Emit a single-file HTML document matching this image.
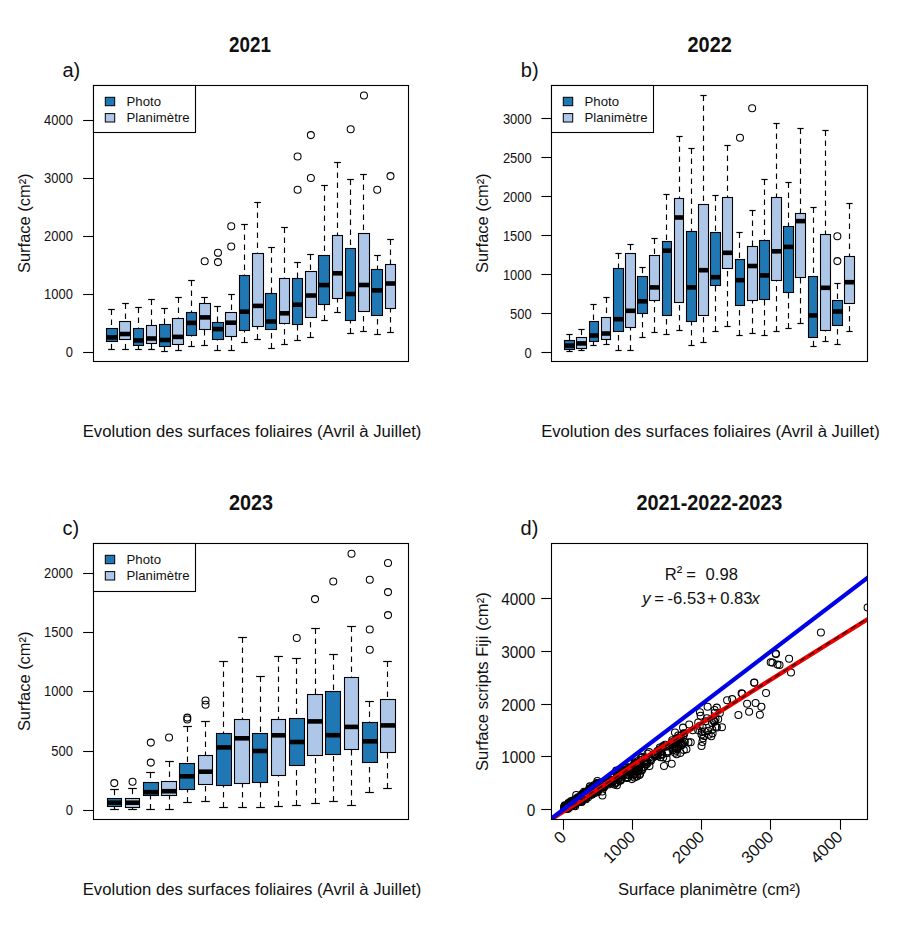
<!DOCTYPE html>
<html><head><meta charset="utf-8"><title>Surfaces foliaires</title>
<style>html,body{margin:0;padding:0;background:#fff;}body{width:911px;height:931px;overflow:hidden;}svg{display:block;}</style>
</head><body>
<svg width="911" height="931" viewBox="0 0 911 931">
<style>text{font-family:'Liberation Sans', Arial, sans-serif;fill:#111}.w{stroke:#000;stroke-width:1.15;stroke-dasharray:5.6 4.4}.s{stroke:#000;stroke-width:1.2;stroke-linecap:butt}.b{stroke:#000;stroke-width:1.1}.m{stroke:#000;stroke-width:4.6}.o{fill:none;stroke:#000;stroke-width:1.05}</style>
<rect width="911" height="931" fill="#fff"/>
<text x="249.95" y="51.9" font-size="21.8" text-anchor="middle" font-weight="bold" textLength="41.8" lengthAdjust="spacingAndGlyphs">2021</text>
<text x="62.5" y="77" font-size="20" text-anchor="start">a)</text>
<rect x="93.5" y="85.5" width="315" height="276" fill="none" stroke="#000" stroke-width="1.1"/>
<line x1="111.5" y1="309.5" x2="111.5" y2="328.5" class="w"/>
<line x1="111.5" y1="349.5" x2="111.5" y2="341.5" class="w"/>
<line x1="108.15" y1="309.5" x2="114.85" y2="309.5" class="s"/>
<line x1="108.15" y1="349.5" x2="114.85" y2="349.5" class="s"/>
<rect x="106.5" y="328.5" width="11" height="13" fill="#1F77B4" class="b"/>
<line x1="106.5" y1="337.4" x2="117.5" y2="337.4" class="m"/>
<line x1="125.5" y1="303.5" x2="125.5" y2="321.5" class="w"/>
<line x1="125.5" y1="349.5" x2="125.5" y2="339.5" class="w"/>
<line x1="122.15" y1="303.5" x2="128.85" y2="303.5" class="s"/>
<line x1="122.15" y1="349.5" x2="128.85" y2="349.5" class="s"/>
<rect x="119.5" y="321.5" width="11" height="18" fill="#AEC7E8" class="b"/>
<line x1="119.5" y1="334" x2="130.5" y2="334" class="m"/>
<line x1="138.5" y1="307.5" x2="138.5" y2="328.5" class="w"/>
<line x1="138.5" y1="349.5" x2="138.5" y2="345.5" class="w"/>
<line x1="135.15" y1="307.5" x2="141.85" y2="307.5" class="s"/>
<line x1="135.15" y1="349.5" x2="141.85" y2="349.5" class="s"/>
<rect x="133.5" y="328.5" width="10" height="17" fill="#1F77B4" class="b"/>
<line x1="133.5" y1="340.4" x2="143.5" y2="340.4" class="m"/>
<line x1="151.5" y1="299.5" x2="151.5" y2="325.5" class="w"/>
<line x1="151.5" y1="349.5" x2="151.5" y2="343.5" class="w"/>
<line x1="148.15" y1="299.5" x2="154.85" y2="299.5" class="s"/>
<line x1="148.15" y1="349.5" x2="154.85" y2="349.5" class="s"/>
<rect x="146.5" y="325.5" width="10" height="18" fill="#AEC7E8" class="b"/>
<line x1="146.5" y1="338.5" x2="156.5" y2="338.5" class="m"/>
<line x1="164.5" y1="308.5" x2="164.5" y2="324.5" class="w"/>
<line x1="164.5" y1="351.5" x2="164.5" y2="346.5" class="w"/>
<line x1="161.15" y1="308.5" x2="167.85" y2="308.5" class="s"/>
<line x1="161.15" y1="351.5" x2="167.85" y2="351.5" class="s"/>
<rect x="159.5" y="324.5" width="11" height="22" fill="#1F77B4" class="b"/>
<line x1="159.5" y1="340" x2="170.5" y2="340" class="m"/>
<line x1="178.5" y1="297.5" x2="178.5" y2="318.5" class="w"/>
<line x1="178.5" y1="350.5" x2="178.5" y2="344.5" class="w"/>
<line x1="175.15" y1="297.5" x2="181.85" y2="297.5" class="s"/>
<line x1="175.15" y1="350.5" x2="181.85" y2="350.5" class="s"/>
<rect x="172.5" y="318.5" width="11" height="26" fill="#AEC7E8" class="b"/>
<line x1="172.5" y1="336.9" x2="183.5" y2="336.9" class="m"/>
<line x1="191.5" y1="280.5" x2="191.5" y2="312.5" class="w"/>
<line x1="191.5" y1="346.5" x2="191.5" y2="335.5" class="w"/>
<line x1="188.15" y1="280.5" x2="194.85" y2="280.5" class="s"/>
<line x1="188.15" y1="346.5" x2="194.85" y2="346.5" class="s"/>
<rect x="186.5" y="312.5" width="10" height="23" fill="#1F77B4" class="b"/>
<line x1="186.5" y1="322.9" x2="196.5" y2="322.9" class="m"/>
<line x1="204.5" y1="297.5" x2="204.5" y2="303.5" class="w"/>
<line x1="204.5" y1="345.5" x2="204.5" y2="329.5" class="w"/>
<line x1="201.15" y1="297.5" x2="207.85" y2="297.5" class="s"/>
<line x1="201.15" y1="345.5" x2="207.85" y2="345.5" class="s"/>
<rect x="199.5" y="303.5" width="11" height="26" fill="#AEC7E8" class="b"/>
<line x1="199.5" y1="317.4" x2="210.5" y2="317.4" class="m"/>
<circle cx="204.7" cy="261.2" r="3.5" class="o"/>
<line x1="217.5" y1="306.5" x2="217.5" y2="322.5" class="w"/>
<line x1="217.5" y1="350.5" x2="217.5" y2="339.5" class="w"/>
<line x1="214.15" y1="306.5" x2="220.85" y2="306.5" class="s"/>
<line x1="214.15" y1="350.5" x2="220.85" y2="350.5" class="s"/>
<rect x="212.5" y="322.5" width="11" height="17" fill="#1F77B4" class="b"/>
<line x1="212.5" y1="329.1" x2="223.5" y2="329.1" class="m"/>
<circle cx="217.97" cy="252.8" r="3.5" class="o"/>
<circle cx="217.97" cy="262.1" r="3.5" class="o"/>
<line x1="231.5" y1="294.5" x2="231.5" y2="312.5" class="w"/>
<line x1="231.5" y1="350.5" x2="231.5" y2="336.5" class="w"/>
<line x1="228.15" y1="294.5" x2="234.85" y2="294.5" class="s"/>
<line x1="228.15" y1="350.5" x2="234.85" y2="350.5" class="s"/>
<rect x="225.5" y="312.5" width="11" height="24" fill="#AEC7E8" class="b"/>
<line x1="225.5" y1="322.7" x2="236.5" y2="322.7" class="m"/>
<circle cx="231.24" cy="226.2" r="3.5" class="o"/>
<circle cx="231.24" cy="246.5" r="3.5" class="o"/>
<line x1="244.5" y1="224.5" x2="244.5" y2="275.5" class="w"/>
<line x1="244.5" y1="342.5" x2="244.5" y2="330.5" class="w"/>
<line x1="241.15" y1="224.5" x2="247.85" y2="224.5" class="s"/>
<line x1="241.15" y1="342.5" x2="247.85" y2="342.5" class="s"/>
<rect x="239.5" y="275.5" width="10" height="55" fill="#1F77B4" class="b"/>
<line x1="239.5" y1="311.7" x2="249.5" y2="311.7" class="m"/>
<line x1="257.5" y1="202.5" x2="257.5" y2="253.5" class="w"/>
<line x1="257.5" y1="339.5" x2="257.5" y2="326.5" class="w"/>
<line x1="254.15" y1="202.5" x2="260.85" y2="202.5" class="s"/>
<line x1="254.15" y1="339.5" x2="260.85" y2="339.5" class="s"/>
<rect x="252.5" y="253.5" width="11" height="73" fill="#AEC7E8" class="b"/>
<line x1="252.5" y1="305.9" x2="263.5" y2="305.9" class="m"/>
<line x1="271.5" y1="247.5" x2="271.5" y2="293.5" class="w"/>
<line x1="271.5" y1="348.5" x2="271.5" y2="329.5" class="w"/>
<line x1="268.15" y1="247.5" x2="274.85" y2="247.5" class="s"/>
<line x1="268.15" y1="348.5" x2="274.85" y2="348.5" class="s"/>
<rect x="265.5" y="293.5" width="11" height="36" fill="#1F77B4" class="b"/>
<line x1="265.5" y1="321.5" x2="276.5" y2="321.5" class="m"/>
<line x1="284.5" y1="227.5" x2="284.5" y2="278.5" class="w"/>
<line x1="284.5" y1="344.5" x2="284.5" y2="323.5" class="w"/>
<line x1="281.15" y1="227.5" x2="287.85" y2="227.5" class="s"/>
<line x1="281.15" y1="344.5" x2="287.85" y2="344.5" class="s"/>
<rect x="279.5" y="278.5" width="10" height="45" fill="#AEC7E8" class="b"/>
<line x1="279.5" y1="313.3" x2="289.5" y2="313.3" class="m"/>
<line x1="297.5" y1="262.5" x2="297.5" y2="278.5" class="w"/>
<line x1="297.5" y1="340.5" x2="297.5" y2="324.5" class="w"/>
<line x1="294.15" y1="262.5" x2="300.85" y2="262.5" class="s"/>
<line x1="294.15" y1="340.5" x2="300.85" y2="340.5" class="s"/>
<rect x="292.5" y="278.5" width="10" height="46" fill="#1F77B4" class="b"/>
<line x1="292.5" y1="304.7" x2="302.5" y2="304.7" class="m"/>
<circle cx="297.6" cy="156.5" r="3.5" class="o"/>
<circle cx="297.6" cy="189.7" r="3.5" class="o"/>
<line x1="310.5" y1="254.5" x2="310.5" y2="271.5" class="w"/>
<line x1="310.5" y1="337.5" x2="310.5" y2="317.5" class="w"/>
<line x1="307.15" y1="254.5" x2="313.85" y2="254.5" class="s"/>
<line x1="307.15" y1="337.5" x2="313.85" y2="337.5" class="s"/>
<rect x="305.5" y="271.5" width="11" height="46" fill="#AEC7E8" class="b"/>
<line x1="305.5" y1="295.5" x2="316.5" y2="295.5" class="m"/>
<circle cx="310.87" cy="135.1" r="3.5" class="o"/>
<circle cx="310.87" cy="177.9" r="3.5" class="o"/>
<line x1="324.5" y1="185.5" x2="324.5" y2="255.5" class="w"/>
<line x1="324.5" y1="320.5" x2="324.5" y2="304.5" class="w"/>
<line x1="321.15" y1="185.5" x2="327.85" y2="185.5" class="s"/>
<line x1="321.15" y1="320.5" x2="327.85" y2="320.5" class="s"/>
<rect x="318.5" y="255.5" width="11" height="49" fill="#1F77B4" class="b"/>
<line x1="318.5" y1="285.1" x2="329.5" y2="285.1" class="m"/>
<line x1="337.5" y1="162.5" x2="337.5" y2="235.5" class="w"/>
<line x1="337.5" y1="312.5" x2="337.5" y2="298.5" class="w"/>
<line x1="334.15" y1="162.5" x2="340.85" y2="162.5" class="s"/>
<line x1="334.15" y1="312.5" x2="340.85" y2="312.5" class="s"/>
<rect x="332.5" y="235.5" width="10" height="63" fill="#AEC7E8" class="b"/>
<line x1="332.5" y1="273.3" x2="342.5" y2="273.3" class="m"/>
<line x1="350.5" y1="179.5" x2="350.5" y2="248.5" class="w"/>
<line x1="350.5" y1="333.5" x2="350.5" y2="320.5" class="w"/>
<line x1="347.15" y1="179.5" x2="353.85" y2="179.5" class="s"/>
<line x1="347.15" y1="333.5" x2="353.85" y2="333.5" class="s"/>
<rect x="345.5" y="248.5" width="10" height="72" fill="#1F77B4" class="b"/>
<line x1="345.5" y1="294" x2="355.5" y2="294" class="m"/>
<circle cx="350.68" cy="129.2" r="3.5" class="o"/>
<line x1="363.5" y1="174.5" x2="363.5" y2="233.5" class="w"/>
<line x1="363.5" y1="331.5" x2="363.5" y2="311.5" class="w"/>
<line x1="360.15" y1="174.5" x2="366.85" y2="174.5" class="s"/>
<line x1="360.15" y1="331.5" x2="366.85" y2="331.5" class="s"/>
<rect x="358.5" y="233.5" width="11" height="78" fill="#AEC7E8" class="b"/>
<line x1="358.5" y1="285" x2="369.5" y2="285" class="m"/>
<circle cx="363.95" cy="95.5" r="3.5" class="o"/>
<line x1="377.5" y1="255.5" x2="377.5" y2="269.5" class="w"/>
<line x1="377.5" y1="334.5" x2="377.5" y2="315.5" class="w"/>
<line x1="374.15" y1="255.5" x2="380.85" y2="255.5" class="s"/>
<line x1="374.15" y1="334.5" x2="380.85" y2="334.5" class="s"/>
<rect x="371.5" y="269.5" width="11" height="46" fill="#1F77B4" class="b"/>
<line x1="371.5" y1="290.4" x2="382.5" y2="290.4" class="m"/>
<circle cx="377.22" cy="189.7" r="3.5" class="o"/>
<line x1="390.5" y1="239.5" x2="390.5" y2="264.5" class="w"/>
<line x1="390.5" y1="332.5" x2="390.5" y2="308.5" class="w"/>
<line x1="387.15" y1="239.5" x2="393.85" y2="239.5" class="s"/>
<line x1="387.15" y1="332.5" x2="393.85" y2="332.5" class="s"/>
<rect x="385.5" y="264.5" width="10" height="44" fill="#AEC7E8" class="b"/>
<line x1="385.5" y1="283.5" x2="395.5" y2="283.5" class="m"/>
<circle cx="390.49" cy="176.1" r="3.5" class="o"/>
<rect x="93.5" y="85.5" width="102" height="47" fill="#fff" stroke="#000" stroke-width="1.1"/>
<rect x="105.3" y="97.3" width="9.4" height="8.4" fill="#1F77B4" stroke="#000" stroke-width="1"/>
<rect x="105.3" y="113.6" width="9.4" height="8.4" fill="#AEC7E8" stroke="#000" stroke-width="1"/>
<text x="126.5" y="105.8" font-size="13.2" text-anchor="start">Photo</text>
<text x="126.5" y="121.8" font-size="13.2" text-anchor="start">Planimètre</text>
<line x1="83.1" y1="352.5" x2="93.5" y2="352.5" stroke="#000" stroke-width="1.1"/>
<text x="72.9" y="356.8" font-size="14.1" text-anchor="end" textLength="7.2" lengthAdjust="spacingAndGlyphs">0</text>
<line x1="83.1" y1="294.5" x2="93.5" y2="294.5" stroke="#000" stroke-width="1.1"/>
<text x="72.9" y="298.8" font-size="14.1" text-anchor="end" textLength="28.8" lengthAdjust="spacingAndGlyphs">1000</text>
<line x1="83.1" y1="236.5" x2="93.5" y2="236.5" stroke="#000" stroke-width="1.1"/>
<text x="72.9" y="240.8" font-size="14.1" text-anchor="end" textLength="28.8" lengthAdjust="spacingAndGlyphs">2000</text>
<line x1="83.1" y1="178.5" x2="93.5" y2="178.5" stroke="#000" stroke-width="1.1"/>
<text x="72.9" y="182.8" font-size="14.1" text-anchor="end" textLength="28.8" lengthAdjust="spacingAndGlyphs">3000</text>
<line x1="83.1" y1="120.5" x2="93.5" y2="120.5" stroke="#000" stroke-width="1.1"/>
<text x="72.9" y="124.8" font-size="14.1" text-anchor="end" textLength="28.8" lengthAdjust="spacingAndGlyphs">4000</text>
<text x="0" y="0" font-size="16" text-anchor="middle" textLength="99.6" lengthAdjust="spacingAndGlyphs" transform="translate(29.8 223.2) rotate(-90)">Surface (cm²)</text>
<text x="252.05" y="436.7" font-size="16" text-anchor="middle" textLength="338.6" lengthAdjust="spacingAndGlyphs">Evolution des surfaces foliaires (Avril à Juillet)</text>
<text x="709.65" y="51.9" font-size="21.8" text-anchor="middle" font-weight="bold" textLength="44.3" lengthAdjust="spacingAndGlyphs">2022</text>
<text x="520.8" y="77" font-size="20" text-anchor="start">b)</text>
<rect x="551.5" y="85.5" width="316" height="276" fill="none" stroke="#000" stroke-width="1.1"/>
<line x1="569.5" y1="334.5" x2="569.5" y2="340.5" class="w"/>
<line x1="569.5" y1="351.5" x2="569.5" y2="349.5" class="w"/>
<line x1="566.37" y1="334.5" x2="572.63" y2="334.5" class="s"/>
<line x1="566.37" y1="351.5" x2="572.63" y2="351.5" class="s"/>
<rect x="564.5" y="340.5" width="10" height="9" fill="#1F77B4" class="b"/>
<line x1="564.5" y1="345.6" x2="574.5" y2="345.6" class="m"/>
<line x1="581.5" y1="329.5" x2="581.5" y2="337.5" class="w"/>
<line x1="581.5" y1="350.5" x2="581.5" y2="348.5" class="w"/>
<line x1="578.37" y1="329.5" x2="584.63" y2="329.5" class="s"/>
<line x1="578.37" y1="350.5" x2="584.63" y2="350.5" class="s"/>
<rect x="576.5" y="337.5" width="10" height="11" fill="#AEC7E8" class="b"/>
<line x1="576.5" y1="343.4" x2="586.5" y2="343.4" class="m"/>
<line x1="593.5" y1="304.5" x2="593.5" y2="321.5" class="w"/>
<line x1="593.5" y1="345.5" x2="593.5" y2="341.5" class="w"/>
<line x1="590.37" y1="304.5" x2="596.63" y2="304.5" class="s"/>
<line x1="590.37" y1="345.5" x2="596.63" y2="345.5" class="s"/>
<rect x="589.5" y="321.5" width="9" height="20" fill="#1F77B4" class="b"/>
<line x1="589.5" y1="335.5" x2="598.5" y2="335.5" class="m"/>
<line x1="606.5" y1="297.5" x2="606.5" y2="317.5" class="w"/>
<line x1="606.5" y1="344.5" x2="606.5" y2="339.5" class="w"/>
<line x1="603.37" y1="297.5" x2="609.63" y2="297.5" class="s"/>
<line x1="603.37" y1="344.5" x2="609.63" y2="344.5" class="s"/>
<rect x="601.5" y="317.5" width="9" height="22" fill="#AEC7E8" class="b"/>
<line x1="601.5" y1="333.5" x2="610.5" y2="333.5" class="m"/>
<line x1="618.5" y1="253.5" x2="618.5" y2="268.5" class="w"/>
<line x1="618.5" y1="350.5" x2="618.5" y2="331.5" class="w"/>
<line x1="615.37" y1="253.5" x2="621.63" y2="253.5" class="s"/>
<line x1="615.37" y1="350.5" x2="621.63" y2="350.5" class="s"/>
<rect x="613.5" y="268.5" width="10" height="63" fill="#1F77B4" class="b"/>
<line x1="613.5" y1="319.2" x2="623.5" y2="319.2" class="m"/>
<line x1="630.5" y1="244.5" x2="630.5" y2="253.5" class="w"/>
<line x1="630.5" y1="350.5" x2="630.5" y2="327.5" class="w"/>
<line x1="627.37" y1="244.5" x2="633.63" y2="244.5" class="s"/>
<line x1="627.37" y1="350.5" x2="633.63" y2="350.5" class="s"/>
<rect x="625.5" y="253.5" width="10" height="74" fill="#AEC7E8" class="b"/>
<line x1="625.5" y1="310.8" x2="635.5" y2="310.8" class="m"/>
<line x1="642.5" y1="267.5" x2="642.5" y2="276.5" class="w"/>
<line x1="642.5" y1="337.5" x2="642.5" y2="313.5" class="w"/>
<line x1="639.37" y1="267.5" x2="645.63" y2="267.5" class="s"/>
<line x1="639.37" y1="337.5" x2="645.63" y2="337.5" class="s"/>
<rect x="637.5" y="276.5" width="10" height="37" fill="#1F77B4" class="b"/>
<line x1="637.5" y1="301.3" x2="647.5" y2="301.3" class="m"/>
<line x1="654.5" y1="238.5" x2="654.5" y2="255.5" class="w"/>
<line x1="654.5" y1="332.5" x2="654.5" y2="300.5" class="w"/>
<line x1="651.37" y1="238.5" x2="657.63" y2="238.5" class="s"/>
<line x1="651.37" y1="332.5" x2="657.63" y2="332.5" class="s"/>
<rect x="649.5" y="255.5" width="10" height="45" fill="#AEC7E8" class="b"/>
<line x1="649.5" y1="287.4" x2="659.5" y2="287.4" class="m"/>
<line x1="666.5" y1="194.5" x2="666.5" y2="241.5" class="w"/>
<line x1="666.5" y1="334.5" x2="666.5" y2="315.5" class="w"/>
<line x1="663.37" y1="194.5" x2="669.63" y2="194.5" class="s"/>
<line x1="663.37" y1="334.5" x2="669.63" y2="334.5" class="s"/>
<rect x="662.5" y="241.5" width="9" height="74" fill="#1F77B4" class="b"/>
<line x1="662.5" y1="250.7" x2="671.5" y2="250.7" class="m"/>
<line x1="679.5" y1="136.5" x2="679.5" y2="198.5" class="w"/>
<line x1="679.5" y1="330.5" x2="679.5" y2="302.5" class="w"/>
<line x1="676.37" y1="136.5" x2="682.63" y2="136.5" class="s"/>
<line x1="676.37" y1="330.5" x2="682.63" y2="330.5" class="s"/>
<rect x="674.5" y="198.5" width="9" height="104" fill="#AEC7E8" class="b"/>
<line x1="674.5" y1="217.5" x2="683.5" y2="217.5" class="m"/>
<line x1="691.5" y1="148.5" x2="691.5" y2="231.5" class="w"/>
<line x1="691.5" y1="345.5" x2="691.5" y2="321.5" class="w"/>
<line x1="688.37" y1="148.5" x2="694.63" y2="148.5" class="s"/>
<line x1="688.37" y1="345.5" x2="694.63" y2="345.5" class="s"/>
<rect x="686.5" y="231.5" width="10" height="90" fill="#1F77B4" class="b"/>
<line x1="686.5" y1="287.4" x2="696.5" y2="287.4" class="m"/>
<line x1="703.5" y1="95.5" x2="703.5" y2="204.5" class="w"/>
<line x1="703.5" y1="342.5" x2="703.5" y2="315.5" class="w"/>
<line x1="700.37" y1="95.5" x2="706.63" y2="95.5" class="s"/>
<line x1="700.37" y1="342.5" x2="706.63" y2="342.5" class="s"/>
<rect x="698.5" y="204.5" width="10" height="111" fill="#AEC7E8" class="b"/>
<line x1="698.5" y1="270.2" x2="708.5" y2="270.2" class="m"/>
<line x1="715.5" y1="195.5" x2="715.5" y2="232.5" class="w"/>
<line x1="715.5" y1="331.5" x2="715.5" y2="285.5" class="w"/>
<line x1="712.37" y1="195.5" x2="718.63" y2="195.5" class="s"/>
<line x1="712.37" y1="331.5" x2="718.63" y2="331.5" class="s"/>
<rect x="710.5" y="232.5" width="10" height="53" fill="#1F77B4" class="b"/>
<line x1="710.5" y1="277.2" x2="720.5" y2="277.2" class="m"/>
<line x1="727.5" y1="145.5" x2="727.5" y2="197.5" class="w"/>
<line x1="727.5" y1="326.5" x2="727.5" y2="268.5" class="w"/>
<line x1="724.37" y1="145.5" x2="730.63" y2="145.5" class="s"/>
<line x1="724.37" y1="326.5" x2="730.63" y2="326.5" class="s"/>
<rect x="722.5" y="197.5" width="10" height="71" fill="#AEC7E8" class="b"/>
<line x1="722.5" y1="252.8" x2="732.5" y2="252.8" class="m"/>
<line x1="739.5" y1="232.5" x2="739.5" y2="259.5" class="w"/>
<line x1="739.5" y1="335.5" x2="739.5" y2="305.5" class="w"/>
<line x1="736.37" y1="232.5" x2="742.63" y2="232.5" class="s"/>
<line x1="736.37" y1="335.5" x2="742.63" y2="335.5" class="s"/>
<rect x="735.5" y="259.5" width="9" height="46" fill="#1F77B4" class="b"/>
<line x1="735.5" y1="280.2" x2="744.5" y2="280.2" class="m"/>
<circle cx="739.98" cy="137.7" r="3.5" class="o"/>
<line x1="752.5" y1="210.5" x2="752.5" y2="246.5" class="w"/>
<line x1="752.5" y1="333.5" x2="752.5" y2="300.5" class="w"/>
<line x1="749.37" y1="210.5" x2="755.63" y2="210.5" class="s"/>
<line x1="749.37" y1="333.5" x2="755.63" y2="333.5" class="s"/>
<rect x="747.5" y="246.5" width="10" height="54" fill="#AEC7E8" class="b"/>
<line x1="747.5" y1="266" x2="757.5" y2="266" class="m"/>
<circle cx="752.15" cy="108.2" r="3.5" class="o"/>
<line x1="764.5" y1="179.5" x2="764.5" y2="240.5" class="w"/>
<line x1="764.5" y1="335.5" x2="764.5" y2="299.5" class="w"/>
<line x1="761.37" y1="179.5" x2="767.63" y2="179.5" class="s"/>
<line x1="761.37" y1="335.5" x2="767.63" y2="335.5" class="s"/>
<rect x="759.5" y="240.5" width="10" height="59" fill="#1F77B4" class="b"/>
<line x1="759.5" y1="275.4" x2="769.5" y2="275.4" class="m"/>
<line x1="776.5" y1="123.5" x2="776.5" y2="197.5" class="w"/>
<line x1="776.5" y1="331.5" x2="776.5" y2="280.5" class="w"/>
<line x1="773.37" y1="123.5" x2="779.63" y2="123.5" class="s"/>
<line x1="773.37" y1="331.5" x2="779.63" y2="331.5" class="s"/>
<rect x="771.5" y="197.5" width="10" height="83" fill="#AEC7E8" class="b"/>
<line x1="771.5" y1="251.3" x2="781.5" y2="251.3" class="m"/>
<line x1="788.5" y1="182.5" x2="788.5" y2="226.5" class="w"/>
<line x1="788.5" y1="328.5" x2="788.5" y2="292.5" class="w"/>
<line x1="785.37" y1="182.5" x2="791.63" y2="182.5" class="s"/>
<line x1="785.37" y1="328.5" x2="791.63" y2="328.5" class="s"/>
<rect x="783.5" y="226.5" width="10" height="66" fill="#1F77B4" class="b"/>
<line x1="783.5" y1="246.9" x2="793.5" y2="246.9" class="m"/>
<line x1="800.5" y1="128.5" x2="800.5" y2="213.5" class="w"/>
<line x1="800.5" y1="323.5" x2="800.5" y2="277.5" class="w"/>
<line x1="797.37" y1="128.5" x2="803.63" y2="128.5" class="s"/>
<line x1="797.37" y1="323.5" x2="803.63" y2="323.5" class="s"/>
<rect x="795.5" y="213.5" width="10" height="64" fill="#AEC7E8" class="b"/>
<line x1="795.5" y1="221.1" x2="805.5" y2="221.1" class="m"/>
<line x1="813.5" y1="207.5" x2="813.5" y2="276.5" class="w"/>
<line x1="813.5" y1="346.5" x2="813.5" y2="337.5" class="w"/>
<line x1="810.37" y1="207.5" x2="816.63" y2="207.5" class="s"/>
<line x1="810.37" y1="346.5" x2="816.63" y2="346.5" class="s"/>
<rect x="808.5" y="276.5" width="9" height="61" fill="#1F77B4" class="b"/>
<line x1="808.5" y1="315.4" x2="817.5" y2="315.4" class="m"/>
<line x1="825.5" y1="130.5" x2="825.5" y2="234.5" class="w"/>
<line x1="825.5" y1="341.5" x2="825.5" y2="330.5" class="w"/>
<line x1="822.37" y1="130.5" x2="828.63" y2="130.5" class="s"/>
<line x1="822.37" y1="341.5" x2="828.63" y2="341.5" class="s"/>
<rect x="820.5" y="234.5" width="10" height="96" fill="#AEC7E8" class="b"/>
<line x1="820.5" y1="287.8" x2="830.5" y2="287.8" class="m"/>
<line x1="837.5" y1="283.5" x2="837.5" y2="300.5" class="w"/>
<line x1="837.5" y1="344.5" x2="837.5" y2="325.5" class="w"/>
<line x1="834.37" y1="283.5" x2="840.63" y2="283.5" class="s"/>
<line x1="834.37" y1="344.5" x2="840.63" y2="344.5" class="s"/>
<rect x="832.5" y="300.5" width="10" height="25" fill="#1F77B4" class="b"/>
<line x1="832.5" y1="311.5" x2="842.5" y2="311.5" class="m"/>
<circle cx="837.36" cy="236.3" r="3.5" class="o"/>
<circle cx="837.36" cy="261.1" r="3.5" class="o"/>
<line x1="849.5" y1="203.5" x2="849.5" y2="256.5" class="w"/>
<line x1="849.5" y1="331.5" x2="849.5" y2="303.5" class="w"/>
<line x1="846.37" y1="203.5" x2="852.63" y2="203.5" class="s"/>
<line x1="846.37" y1="331.5" x2="852.63" y2="331.5" class="s"/>
<rect x="844.5" y="256.5" width="10" height="47" fill="#AEC7E8" class="b"/>
<line x1="844.5" y1="282.2" x2="854.5" y2="282.2" class="m"/>
<rect x="551.5" y="85.5" width="102" height="47" fill="#fff" stroke="#000" stroke-width="1.1"/>
<rect x="563.3" y="97.3" width="9.4" height="8.4" fill="#1F77B4" stroke="#000" stroke-width="1"/>
<rect x="563.3" y="113.6" width="9.4" height="8.4" fill="#AEC7E8" stroke="#000" stroke-width="1"/>
<text x="584.5" y="105.8" font-size="13.2" text-anchor="start">Photo</text>
<text x="584.5" y="121.8" font-size="13.2" text-anchor="start">Planimètre</text>
<line x1="541.4" y1="352.5" x2="551.5" y2="352.5" stroke="#000" stroke-width="1.1"/>
<text x="531.7" y="357.6" font-size="14.1" text-anchor="end" textLength="7.2" lengthAdjust="spacingAndGlyphs">0</text>
<line x1="541.4" y1="313.5" x2="551.5" y2="313.5" stroke="#000" stroke-width="1.1"/>
<text x="531.7" y="318.6" font-size="14.1" text-anchor="end" textLength="21.6" lengthAdjust="spacingAndGlyphs">500</text>
<line x1="541.4" y1="274.5" x2="551.5" y2="274.5" stroke="#000" stroke-width="1.1"/>
<text x="531.7" y="279.6" font-size="14.1" text-anchor="end" textLength="28.8" lengthAdjust="spacingAndGlyphs">1000</text>
<line x1="541.4" y1="235.5" x2="551.5" y2="235.5" stroke="#000" stroke-width="1.1"/>
<text x="531.7" y="240.6" font-size="14.1" text-anchor="end" textLength="28.8" lengthAdjust="spacingAndGlyphs">1500</text>
<line x1="541.4" y1="196.5" x2="551.5" y2="196.5" stroke="#000" stroke-width="1.1"/>
<text x="531.7" y="201.6" font-size="14.1" text-anchor="end" textLength="28.8" lengthAdjust="spacingAndGlyphs">2000</text>
<line x1="541.4" y1="157.5" x2="551.5" y2="157.5" stroke="#000" stroke-width="1.1"/>
<text x="531.7" y="162.6" font-size="14.1" text-anchor="end" textLength="28.8" lengthAdjust="spacingAndGlyphs">2500</text>
<line x1="541.4" y1="118.5" x2="551.5" y2="118.5" stroke="#000" stroke-width="1.1"/>
<text x="531.7" y="123.6" font-size="14.1" text-anchor="end" textLength="28.8" lengthAdjust="spacingAndGlyphs">3000</text>
<text x="0" y="0" font-size="16" text-anchor="middle" textLength="99.6" lengthAdjust="spacingAndGlyphs" transform="translate(488.1 223.2) rotate(-90)">Surface (cm²)</text>
<text x="710.45" y="436.7" font-size="16" text-anchor="middle" textLength="338.6" lengthAdjust="spacingAndGlyphs">Evolution des surfaces foliaires (Avril à Juillet)</text>
<text x="251" y="510" font-size="21.8" text-anchor="middle" font-weight="bold" textLength="44.1" lengthAdjust="spacingAndGlyphs">2023</text>
<text x="62.5" y="535.1" font-size="20" text-anchor="start">c)</text>
<rect x="93.5" y="543.5" width="315" height="276" fill="none" stroke="#000" stroke-width="1.1"/>
<line x1="114.5" y1="789.5" x2="114.5" y2="798.5" class="w"/>
<line x1="114.5" y1="809.5" x2="114.5" y2="806.5" class="w"/>
<line x1="110.15" y1="789.5" x2="118.85" y2="789.5" class="s"/>
<line x1="110.15" y1="809.5" x2="118.85" y2="809.5" class="s"/>
<rect x="107.5" y="798.5" width="14" height="8" fill="#1F77B4" class="b"/>
<line x1="107.5" y1="802.7" x2="121.5" y2="802.7" class="m"/>
<circle cx="114.3" cy="783.1" r="3.5" class="o"/>
<line x1="132.5" y1="788.5" x2="132.5" y2="798.5" class="w"/>
<line x1="132.5" y1="809.5" x2="132.5" y2="807.5" class="w"/>
<line x1="128.15" y1="788.5" x2="136.85" y2="788.5" class="s"/>
<line x1="128.15" y1="809.5" x2="136.85" y2="809.5" class="s"/>
<rect x="125.5" y="798.5" width="14" height="9" fill="#AEC7E8" class="b"/>
<line x1="125.5" y1="802.7" x2="139.5" y2="802.7" class="m"/>
<circle cx="132.55" cy="781.7" r="3.5" class="o"/>
<line x1="150.5" y1="772.5" x2="150.5" y2="782.5" class="w"/>
<line x1="150.5" y1="809.5" x2="150.5" y2="795.5" class="w"/>
<line x1="146.15" y1="772.5" x2="154.85" y2="772.5" class="s"/>
<line x1="146.15" y1="809.5" x2="154.85" y2="809.5" class="s"/>
<rect x="143.5" y="782.5" width="15" height="13" fill="#1F77B4" class="b"/>
<line x1="143.5" y1="792.2" x2="158.5" y2="792.2" class="m"/>
<circle cx="150.79" cy="762.6" r="3.5" class="o"/>
<circle cx="150.79" cy="742.6" r="3.5" class="o"/>
<line x1="169.5" y1="761.5" x2="169.5" y2="781.5" class="w"/>
<line x1="169.5" y1="809.5" x2="169.5" y2="795.5" class="w"/>
<line x1="165.15" y1="761.5" x2="173.85" y2="761.5" class="s"/>
<line x1="165.15" y1="809.5" x2="173.85" y2="809.5" class="s"/>
<rect x="161.5" y="781.5" width="15" height="14" fill="#AEC7E8" class="b"/>
<line x1="161.5" y1="791.2" x2="176.5" y2="791.2" class="m"/>
<circle cx="169.04" cy="737.5" r="3.5" class="o"/>
<line x1="187.5" y1="726.5" x2="187.5" y2="763.5" class="w"/>
<line x1="187.5" y1="802.5" x2="187.5" y2="789.5" class="w"/>
<line x1="183.15" y1="726.5" x2="191.85" y2="726.5" class="s"/>
<line x1="183.15" y1="802.5" x2="191.85" y2="802.5" class="s"/>
<rect x="179.5" y="763.5" width="15" height="26" fill="#1F77B4" class="b"/>
<line x1="179.5" y1="776.3" x2="194.5" y2="776.3" class="m"/>
<circle cx="187.29" cy="717.6" r="3.5" class="o"/>
<circle cx="187.29" cy="719.4" r="3.5" class="o"/>
<line x1="205.5" y1="721.5" x2="205.5" y2="755.5" class="w"/>
<line x1="205.5" y1="801.5" x2="205.5" y2="784.5" class="w"/>
<line x1="201.15" y1="721.5" x2="209.85" y2="721.5" class="s"/>
<line x1="201.15" y1="801.5" x2="209.85" y2="801.5" class="s"/>
<rect x="198.5" y="755.5" width="14" height="29" fill="#AEC7E8" class="b"/>
<line x1="198.5" y1="771.7" x2="212.5" y2="771.7" class="m"/>
<circle cx="205.53" cy="700.4" r="3.5" class="o"/>
<circle cx="205.53" cy="704.7" r="3.5" class="o"/>
<line x1="223.5" y1="661.5" x2="223.5" y2="733.5" class="w"/>
<line x1="223.5" y1="807.5" x2="223.5" y2="785.5" class="w"/>
<line x1="219.15" y1="661.5" x2="227.85" y2="661.5" class="s"/>
<line x1="219.15" y1="807.5" x2="227.85" y2="807.5" class="s"/>
<rect x="216.5" y="733.5" width="15" height="52" fill="#1F77B4" class="b"/>
<line x1="216.5" y1="747.4" x2="231.5" y2="747.4" class="m"/>
<line x1="242.5" y1="637.5" x2="242.5" y2="719.5" class="w"/>
<line x1="242.5" y1="807.5" x2="242.5" y2="783.5" class="w"/>
<line x1="238.15" y1="637.5" x2="246.85" y2="637.5" class="s"/>
<line x1="238.15" y1="807.5" x2="246.85" y2="807.5" class="s"/>
<rect x="234.5" y="719.5" width="15" height="64" fill="#AEC7E8" class="b"/>
<line x1="234.5" y1="738.3" x2="249.5" y2="738.3" class="m"/>
<line x1="260.5" y1="676.5" x2="260.5" y2="733.5" class="w"/>
<line x1="260.5" y1="807.5" x2="260.5" y2="782.5" class="w"/>
<line x1="256.15" y1="676.5" x2="264.85" y2="676.5" class="s"/>
<line x1="256.15" y1="807.5" x2="264.85" y2="807.5" class="s"/>
<rect x="252.5" y="733.5" width="15" height="49" fill="#1F77B4" class="b"/>
<line x1="252.5" y1="751" x2="267.5" y2="751" class="m"/>
<line x1="278.5" y1="656.5" x2="278.5" y2="719.5" class="w"/>
<line x1="278.5" y1="806.5" x2="278.5" y2="775.5" class="w"/>
<line x1="274.15" y1="656.5" x2="282.85" y2="656.5" class="s"/>
<line x1="274.15" y1="806.5" x2="282.85" y2="806.5" class="s"/>
<rect x="271.5" y="719.5" width="14" height="56" fill="#AEC7E8" class="b"/>
<line x1="271.5" y1="735.3" x2="285.5" y2="735.3" class="m"/>
<line x1="296.5" y1="658.5" x2="296.5" y2="718.5" class="w"/>
<line x1="296.5" y1="805.5" x2="296.5" y2="765.5" class="w"/>
<line x1="292.15" y1="658.5" x2="300.85" y2="658.5" class="s"/>
<line x1="292.15" y1="805.5" x2="300.85" y2="805.5" class="s"/>
<rect x="289.5" y="718.5" width="15" height="47" fill="#1F77B4" class="b"/>
<line x1="289.5" y1="742" x2="304.5" y2="742" class="m"/>
<circle cx="296.77" cy="637.9" r="3.5" class="o"/>
<line x1="315.5" y1="628.5" x2="315.5" y2="694.5" class="w"/>
<line x1="315.5" y1="803.5" x2="315.5" y2="755.5" class="w"/>
<line x1="311.15" y1="628.5" x2="319.85" y2="628.5" class="s"/>
<line x1="311.15" y1="803.5" x2="319.85" y2="803.5" class="s"/>
<rect x="307.5" y="694.5" width="15" height="61" fill="#AEC7E8" class="b"/>
<line x1="307.5" y1="721.4" x2="322.5" y2="721.4" class="m"/>
<circle cx="315.01" cy="599.1" r="3.5" class="o"/>
<line x1="333.5" y1="654.5" x2="333.5" y2="691.5" class="w"/>
<line x1="333.5" y1="801.5" x2="333.5" y2="754.5" class="w"/>
<line x1="329.15" y1="654.5" x2="337.85" y2="654.5" class="s"/>
<line x1="329.15" y1="801.5" x2="337.85" y2="801.5" class="s"/>
<rect x="325.5" y="691.5" width="15" height="63" fill="#1F77B4" class="b"/>
<line x1="325.5" y1="735.2" x2="340.5" y2="735.2" class="m"/>
<circle cx="333.26" cy="581.4" r="3.5" class="o"/>
<line x1="351.5" y1="626.5" x2="351.5" y2="677.5" class="w"/>
<line x1="351.5" y1="805.5" x2="351.5" y2="749.5" class="w"/>
<line x1="347.15" y1="626.5" x2="355.85" y2="626.5" class="s"/>
<line x1="347.15" y1="805.5" x2="355.85" y2="805.5" class="s"/>
<rect x="344.5" y="677.5" width="14" height="72" fill="#AEC7E8" class="b"/>
<line x1="344.5" y1="726.9" x2="358.5" y2="726.9" class="m"/>
<circle cx="351.51" cy="553.8" r="3.5" class="o"/>
<line x1="369.5" y1="701.5" x2="369.5" y2="722.5" class="w"/>
<line x1="369.5" y1="792.5" x2="369.5" y2="762.5" class="w"/>
<line x1="365.15" y1="701.5" x2="373.85" y2="701.5" class="s"/>
<line x1="365.15" y1="792.5" x2="373.85" y2="792.5" class="s"/>
<rect x="362.5" y="722.5" width="15" height="40" fill="#1F77B4" class="b"/>
<line x1="362.5" y1="741.3" x2="377.5" y2="741.3" class="m"/>
<circle cx="369.75" cy="579.8" r="3.5" class="o"/>
<circle cx="369.75" cy="629.5" r="3.5" class="o"/>
<circle cx="369.75" cy="649.7" r="3.5" class="o"/>
<line x1="387.5" y1="661.5" x2="387.5" y2="699.5" class="w"/>
<line x1="387.5" y1="788.5" x2="387.5" y2="752.5" class="w"/>
<line x1="383.15" y1="661.5" x2="391.85" y2="661.5" class="s"/>
<line x1="383.15" y1="788.5" x2="391.85" y2="788.5" class="s"/>
<rect x="380.5" y="699.5" width="15" height="53" fill="#AEC7E8" class="b"/>
<line x1="380.5" y1="725.4" x2="395.5" y2="725.4" class="m"/>
<circle cx="388" cy="563" r="3.5" class="o"/>
<circle cx="388" cy="592.1" r="3.5" class="o"/>
<circle cx="388" cy="615.1" r="3.5" class="o"/>
<rect x="93.5" y="543.5" width="102" height="48" fill="#fff" stroke="#000" stroke-width="1.1"/>
<rect x="105.3" y="555.3" width="9.4" height="8.4" fill="#1F77B4" stroke="#000" stroke-width="1"/>
<rect x="105.3" y="571.6" width="9.4" height="8.4" fill="#AEC7E8" stroke="#000" stroke-width="1"/>
<text x="126.5" y="563.8" font-size="13.2" text-anchor="start">Photo</text>
<text x="126.5" y="579.8" font-size="13.2" text-anchor="start">Planimètre</text>
<line x1="83.1" y1="810.5" x2="93.5" y2="810.5" stroke="#000" stroke-width="1.1"/>
<text x="72.9" y="814.8" font-size="14.1" text-anchor="end" textLength="7.2" lengthAdjust="spacingAndGlyphs">0</text>
<line x1="83.1" y1="751.5" x2="93.5" y2="751.5" stroke="#000" stroke-width="1.1"/>
<text x="72.9" y="755.8" font-size="14.1" text-anchor="end" textLength="21.6" lengthAdjust="spacingAndGlyphs">500</text>
<line x1="83.1" y1="691.5" x2="93.5" y2="691.5" stroke="#000" stroke-width="1.1"/>
<text x="72.9" y="695.8" font-size="14.1" text-anchor="end" textLength="28.8" lengthAdjust="spacingAndGlyphs">1000</text>
<line x1="83.1" y1="632.5" x2="93.5" y2="632.5" stroke="#000" stroke-width="1.1"/>
<text x="72.9" y="636.8" font-size="14.1" text-anchor="end" textLength="28.8" lengthAdjust="spacingAndGlyphs">1500</text>
<line x1="83.1" y1="573.5" x2="93.5" y2="573.5" stroke="#000" stroke-width="1.1"/>
<text x="72.9" y="577.8" font-size="14.1" text-anchor="end" textLength="28.8" lengthAdjust="spacingAndGlyphs">2000</text>
<text x="0" y="0" font-size="16" text-anchor="middle" textLength="99.6" lengthAdjust="spacingAndGlyphs" transform="translate(29.8 681.3) rotate(-90)">Surface (cm²)</text>
<text x="252.05" y="894.8" font-size="16" text-anchor="middle" textLength="338.6" lengthAdjust="spacingAndGlyphs">Evolution des surfaces foliaires (Avril à Juillet)</text>
<text x="709.4" y="509.8" font-size="21.8" text-anchor="middle" font-weight="bold" textLength="146" lengthAdjust="spacingAndGlyphs">2021-2022-2023</text>
<text x="520.6" y="534.9" font-size="20" text-anchor="start">d)</text>
<clipPath id="cd"><rect x="551.6" y="543.4" width="315.7" height="275.9"/></clipPath>
<g clip-path="url(#cd)">
<circle cx="568.81" cy="806.44" r="3.5" class="o"/>
<circle cx="608.93" cy="782.02" r="3.5" class="o"/>
<circle cx="594.62" cy="786.82" r="3.5" class="o"/>
<circle cx="638.69" cy="768.57" r="3.5" class="o"/>
<circle cx="610.43" cy="779.71" r="3.5" class="o"/>
<circle cx="568.58" cy="804.97" r="3.5" class="o"/>
<circle cx="641.44" cy="770.51" r="3.5" class="o"/>
<circle cx="594.28" cy="787.92" r="3.5" class="o"/>
<circle cx="611.92" cy="781.95" r="3.5" class="o"/>
<circle cx="591.05" cy="792.73" r="3.5" class="o"/>
<circle cx="616.64" cy="782.54" r="3.5" class="o"/>
<circle cx="679.87" cy="738.89" r="3.5" class="o"/>
<circle cx="593.14" cy="793.41" r="3.5" class="o"/>
<circle cx="633.59" cy="768.68" r="3.5" class="o"/>
<circle cx="613.31" cy="781.18" r="3.5" class="o"/>
<circle cx="594.17" cy="792.05" r="3.5" class="o"/>
<circle cx="713.92" cy="721.24" r="3.5" class="o"/>
<circle cx="579.55" cy="797.98" r="3.5" class="o"/>
<circle cx="590.14" cy="790.41" r="3.5" class="o"/>
<circle cx="593.71" cy="787.42" r="3.5" class="o"/>
<circle cx="633.97" cy="770.78" r="3.5" class="o"/>
<circle cx="608.59" cy="784.5" r="3.5" class="o"/>
<circle cx="571.61" cy="802.19" r="3.5" class="o"/>
<circle cx="603.95" cy="784.87" r="3.5" class="o"/>
<circle cx="637.34" cy="774.36" r="3.5" class="o"/>
<circle cx="593.85" cy="789.16" r="3.5" class="o"/>
<circle cx="671.29" cy="744.47" r="3.5" class="o"/>
<circle cx="594.25" cy="787.9" r="3.5" class="o"/>
<circle cx="575.35" cy="801.58" r="3.5" class="o"/>
<circle cx="567.11" cy="806.76" r="3.5" class="o"/>
<circle cx="662.4" cy="748.23" r="3.5" class="o"/>
<circle cx="567.84" cy="808.45" r="3.5" class="o"/>
<circle cx="567.13" cy="807.63" r="3.5" class="o"/>
<circle cx="640.51" cy="759.97" r="3.5" class="o"/>
<circle cx="582.37" cy="795.41" r="3.5" class="o"/>
<circle cx="715.92" cy="726.8" r="3.5" class="o"/>
<circle cx="590.27" cy="793.35" r="3.5" class="o"/>
<circle cx="571.31" cy="802.65" r="3.5" class="o"/>
<circle cx="671.69" cy="763.84" r="3.5" class="o"/>
<circle cx="608.44" cy="781.57" r="3.5" class="o"/>
<circle cx="587.53" cy="791.81" r="3.5" class="o"/>
<circle cx="721.95" cy="727.23" r="3.5" class="o"/>
<circle cx="570.4" cy="804.06" r="3.5" class="o"/>
<circle cx="714.81" cy="712.69" r="3.5" class="o"/>
<circle cx="586.42" cy="793.55" r="3.5" class="o"/>
<circle cx="655.82" cy="755.18" r="3.5" class="o"/>
<circle cx="679.7" cy="743.1" r="3.5" class="o"/>
<circle cx="640.92" cy="758.07" r="3.5" class="o"/>
<circle cx="639.77" cy="761.67" r="3.5" class="o"/>
<circle cx="582.56" cy="796.85" r="3.5" class="o"/>
<circle cx="705.58" cy="721.36" r="3.5" class="o"/>
<circle cx="672.66" cy="744.09" r="3.5" class="o"/>
<circle cx="583.86" cy="795.35" r="3.5" class="o"/>
<circle cx="595.04" cy="788.26" r="3.5" class="o"/>
<circle cx="634.98" cy="763.14" r="3.5" class="o"/>
<circle cx="616.56" cy="778.78" r="3.5" class="o"/>
<circle cx="591.21" cy="790.07" r="3.5" class="o"/>
<circle cx="659.62" cy="749.41" r="3.5" class="o"/>
<circle cx="637.83" cy="770.16" r="3.5" class="o"/>
<circle cx="657.26" cy="756.06" r="3.5" class="o"/>
<circle cx="620.87" cy="780.18" r="3.5" class="o"/>
<circle cx="617.04" cy="774.61" r="3.5" class="o"/>
<circle cx="678.27" cy="743.22" r="3.5" class="o"/>
<circle cx="639.33" cy="765.25" r="3.5" class="o"/>
<circle cx="566.13" cy="808.97" r="3.5" class="o"/>
<circle cx="640.17" cy="773.66" r="3.5" class="o"/>
<circle cx="679.5" cy="739.19" r="3.5" class="o"/>
<circle cx="639.12" cy="769.43" r="3.5" class="o"/>
<circle cx="607.64" cy="782.45" r="3.5" class="o"/>
<circle cx="582.74" cy="795.76" r="3.5" class="o"/>
<circle cx="585.16" cy="795.68" r="3.5" class="o"/>
<circle cx="712.29" cy="729.58" r="3.5" class="o"/>
<circle cx="590.51" cy="791.18" r="3.5" class="o"/>
<circle cx="635.33" cy="769.5" r="3.5" class="o"/>
<circle cx="701.76" cy="732.05" r="3.5" class="o"/>
<circle cx="611.81" cy="777.6" r="3.5" class="o"/>
<circle cx="636.75" cy="770.2" r="3.5" class="o"/>
<circle cx="607.64" cy="783.2" r="3.5" class="o"/>
<circle cx="581.8" cy="797.61" r="3.5" class="o"/>
<circle cx="565.34" cy="807.71" r="3.5" class="o"/>
<circle cx="589.84" cy="791.58" r="3.5" class="o"/>
<circle cx="575.59" cy="799.63" r="3.5" class="o"/>
<circle cx="588.93" cy="793.57" r="3.5" class="o"/>
<circle cx="636.45" cy="764.87" r="3.5" class="o"/>
<circle cx="631.61" cy="771.04" r="3.5" class="o"/>
<circle cx="690.74" cy="742.19" r="3.5" class="o"/>
<circle cx="608.05" cy="783.41" r="3.5" class="o"/>
<circle cx="645.06" cy="757.47" r="3.5" class="o"/>
<circle cx="665.13" cy="744.74" r="3.5" class="o"/>
<circle cx="598.86" cy="787.36" r="3.5" class="o"/>
<circle cx="700.62" cy="715.68" r="3.5" class="o"/>
<circle cx="564.62" cy="808.63" r="3.5" class="o"/>
<circle cx="591.48" cy="791.11" r="3.5" class="o"/>
<circle cx="565.04" cy="807" r="3.5" class="o"/>
<circle cx="583.83" cy="798.52" r="3.5" class="o"/>
<circle cx="625.87" cy="777.53" r="3.5" class="o"/>
<circle cx="681.39" cy="743.85" r="3.5" class="o"/>
<circle cx="675.84" cy="750.71" r="3.5" class="o"/>
<circle cx="581.7" cy="801.94" r="3.5" class="o"/>
<circle cx="672.67" cy="750.24" r="3.5" class="o"/>
<circle cx="602.36" cy="785.65" r="3.5" class="o"/>
<circle cx="592.48" cy="791.52" r="3.5" class="o"/>
<circle cx="624.16" cy="770.38" r="3.5" class="o"/>
<circle cx="657.03" cy="752.45" r="3.5" class="o"/>
<circle cx="644.9" cy="760.57" r="3.5" class="o"/>
<circle cx="589.16" cy="788.85" r="3.5" class="o"/>
<circle cx="580.15" cy="799.68" r="3.5" class="o"/>
<circle cx="622.33" cy="775.22" r="3.5" class="o"/>
<circle cx="647.42" cy="762.11" r="3.5" class="o"/>
<circle cx="586.82" cy="794.9" r="3.5" class="o"/>
<circle cx="581.45" cy="800.48" r="3.5" class="o"/>
<circle cx="594.48" cy="787.35" r="3.5" class="o"/>
<circle cx="675.01" cy="732.53" r="3.5" class="o"/>
<circle cx="604.23" cy="786.08" r="3.5" class="o"/>
<circle cx="598.1" cy="790.92" r="3.5" class="o"/>
<circle cx="591.94" cy="794.51" r="3.5" class="o"/>
<circle cx="643.89" cy="767.07" r="3.5" class="o"/>
<circle cx="580.59" cy="799.43" r="3.5" class="o"/>
<circle cx="575.48" cy="802.59" r="3.5" class="o"/>
<circle cx="589.54" cy="789.8" r="3.5" class="o"/>
<circle cx="708.65" cy="734.77" r="3.5" class="o"/>
<circle cx="598.11" cy="786.48" r="3.5" class="o"/>
<circle cx="604.55" cy="782.48" r="3.5" class="o"/>
<circle cx="595.92" cy="786.44" r="3.5" class="o"/>
<circle cx="600.42" cy="782.93" r="3.5" class="o"/>
<circle cx="663.22" cy="757.41" r="3.5" class="o"/>
<circle cx="635.09" cy="774.05" r="3.5" class="o"/>
<circle cx="605.08" cy="782.71" r="3.5" class="o"/>
<circle cx="607.86" cy="782.89" r="3.5" class="o"/>
<circle cx="586.26" cy="797.91" r="3.5" class="o"/>
<circle cx="569.38" cy="804.62" r="3.5" class="o"/>
<circle cx="698.2" cy="722.52" r="3.5" class="o"/>
<circle cx="597.99" cy="789.46" r="3.5" class="o"/>
<circle cx="566.75" cy="807.1" r="3.5" class="o"/>
<circle cx="634.16" cy="770.22" r="3.5" class="o"/>
<circle cx="609.47" cy="779.5" r="3.5" class="o"/>
<circle cx="680.25" cy="738.54" r="3.5" class="o"/>
<circle cx="572.96" cy="803.77" r="3.5" class="o"/>
<circle cx="637.38" cy="766.68" r="3.5" class="o"/>
<circle cx="588.11" cy="791.99" r="3.5" class="o"/>
<circle cx="591.25" cy="794.86" r="3.5" class="o"/>
<circle cx="674.08" cy="743.7" r="3.5" class="o"/>
<circle cx="581.65" cy="798.64" r="3.5" class="o"/>
<circle cx="664.01" cy="766.03" r="3.5" class="o"/>
<circle cx="590.63" cy="790.79" r="3.5" class="o"/>
<circle cx="605.93" cy="781" r="3.5" class="o"/>
<circle cx="596.66" cy="783.74" r="3.5" class="o"/>
<circle cx="610.01" cy="780.55" r="3.5" class="o"/>
<circle cx="579.52" cy="796.74" r="3.5" class="o"/>
<circle cx="655.69" cy="754.02" r="3.5" class="o"/>
<circle cx="647.57" cy="753.84" r="3.5" class="o"/>
<circle cx="603.68" cy="786.88" r="3.5" class="o"/>
<circle cx="575.28" cy="803.92" r="3.5" class="o"/>
<circle cx="591.14" cy="790.47" r="3.5" class="o"/>
<circle cx="597.11" cy="790.26" r="3.5" class="o"/>
<circle cx="571.25" cy="803.6" r="3.5" class="o"/>
<circle cx="698.14" cy="730.12" r="3.5" class="o"/>
<circle cx="637.13" cy="762.98" r="3.5" class="o"/>
<circle cx="681.02" cy="735.5" r="3.5" class="o"/>
<circle cx="675.44" cy="745.73" r="3.5" class="o"/>
<circle cx="570.01" cy="802.7" r="3.5" class="o"/>
<circle cx="586.56" cy="796.04" r="3.5" class="o"/>
<circle cx="569.45" cy="804.01" r="3.5" class="o"/>
<circle cx="596.61" cy="784.74" r="3.5" class="o"/>
<circle cx="575.92" cy="798.93" r="3.5" class="o"/>
<circle cx="593.62" cy="793.43" r="3.5" class="o"/>
<circle cx="683.5" cy="735.52" r="3.5" class="o"/>
<circle cx="630.51" cy="773.79" r="3.5" class="o"/>
<circle cx="595.39" cy="788.49" r="3.5" class="o"/>
<circle cx="649.1" cy="752.14" r="3.5" class="o"/>
<circle cx="588.36" cy="794" r="3.5" class="o"/>
<circle cx="589.71" cy="789.38" r="3.5" class="o"/>
<circle cx="675.33" cy="745.66" r="3.5" class="o"/>
<circle cx="692.86" cy="730.17" r="3.5" class="o"/>
<circle cx="683.01" cy="743.25" r="3.5" class="o"/>
<circle cx="662.07" cy="754.53" r="3.5" class="o"/>
<circle cx="636.52" cy="763.17" r="3.5" class="o"/>
<circle cx="564.77" cy="808.89" r="3.5" class="o"/>
<circle cx="716.89" cy="727.4" r="3.5" class="o"/>
<circle cx="580.82" cy="799.89" r="3.5" class="o"/>
<circle cx="578" cy="802.2" r="3.5" class="o"/>
<circle cx="673.67" cy="742.94" r="3.5" class="o"/>
<circle cx="583.19" cy="795.64" r="3.5" class="o"/>
<circle cx="572.15" cy="802.78" r="3.5" class="o"/>
<circle cx="660.67" cy="754.76" r="3.5" class="o"/>
<circle cx="602.43" cy="795.42" r="3.5" class="o"/>
<circle cx="580" cy="800.69" r="3.5" class="o"/>
<circle cx="676.11" cy="738.87" r="3.5" class="o"/>
<circle cx="702.37" cy="742.02" r="3.5" class="o"/>
<circle cx="603.81" cy="787.35" r="3.5" class="o"/>
<circle cx="621.23" cy="774.11" r="3.5" class="o"/>
<circle cx="572.41" cy="805.34" r="3.5" class="o"/>
<circle cx="564.39" cy="806.95" r="3.5" class="o"/>
<circle cx="591.08" cy="790.84" r="3.5" class="o"/>
<circle cx="577.26" cy="802.56" r="3.5" class="o"/>
<circle cx="569.26" cy="806.25" r="3.5" class="o"/>
<circle cx="574.23" cy="801.5" r="3.5" class="o"/>
<circle cx="608.52" cy="778.72" r="3.5" class="o"/>
<circle cx="570.41" cy="805.77" r="3.5" class="o"/>
<circle cx="594.75" cy="792.44" r="3.5" class="o"/>
<circle cx="633.94" cy="764.73" r="3.5" class="o"/>
<circle cx="622.23" cy="775.8" r="3.5" class="o"/>
<circle cx="581.03" cy="796.5" r="3.5" class="o"/>
<circle cx="636.01" cy="765.62" r="3.5" class="o"/>
<circle cx="683.71" cy="733.33" r="3.5" class="o"/>
<circle cx="593.82" cy="789.41" r="3.5" class="o"/>
<circle cx="704.17" cy="736.05" r="3.5" class="o"/>
<circle cx="577.57" cy="797.5" r="3.5" class="o"/>
<circle cx="571.14" cy="806.44" r="3.5" class="o"/>
<circle cx="567.85" cy="806.33" r="3.5" class="o"/>
<circle cx="634.69" cy="766.59" r="3.5" class="o"/>
<circle cx="638.39" cy="771.55" r="3.5" class="o"/>
<circle cx="578.11" cy="801.52" r="3.5" class="o"/>
<circle cx="612.85" cy="777.79" r="3.5" class="o"/>
<circle cx="602.62" cy="787.83" r="3.5" class="o"/>
<circle cx="579.95" cy="798.75" r="3.5" class="o"/>
<circle cx="595.68" cy="789.57" r="3.5" class="o"/>
<circle cx="585.59" cy="792.23" r="3.5" class="o"/>
<circle cx="657.44" cy="751.01" r="3.5" class="o"/>
<circle cx="680.75" cy="745.4" r="3.5" class="o"/>
<circle cx="642.07" cy="769.95" r="3.5" class="o"/>
<circle cx="682.15" cy="745.12" r="3.5" class="o"/>
<circle cx="589.73" cy="790.54" r="3.5" class="o"/>
<circle cx="591.78" cy="787.37" r="3.5" class="o"/>
<circle cx="684.24" cy="733.61" r="3.5" class="o"/>
<circle cx="569.89" cy="803.22" r="3.5" class="o"/>
<circle cx="634.55" cy="762.18" r="3.5" class="o"/>
<circle cx="622.02" cy="773.04" r="3.5" class="o"/>
<circle cx="633.93" cy="766.81" r="3.5" class="o"/>
<circle cx="591.16" cy="791.77" r="3.5" class="o"/>
<circle cx="608.67" cy="780.45" r="3.5" class="o"/>
<circle cx="635.04" cy="770.57" r="3.5" class="o"/>
<circle cx="702.5" cy="726.93" r="3.5" class="o"/>
<circle cx="568.76" cy="807.16" r="3.5" class="o"/>
<circle cx="634.56" cy="767.19" r="3.5" class="o"/>
<circle cx="564.46" cy="808.84" r="3.5" class="o"/>
<circle cx="619.73" cy="775.53" r="3.5" class="o"/>
<circle cx="595.96" cy="789.24" r="3.5" class="o"/>
<circle cx="585.65" cy="792.37" r="3.5" class="o"/>
<circle cx="604.02" cy="787.27" r="3.5" class="o"/>
<circle cx="585.91" cy="799.21" r="3.5" class="o"/>
<circle cx="644.72" cy="762.14" r="3.5" class="o"/>
<circle cx="602.74" cy="785.05" r="3.5" class="o"/>
<circle cx="636.75" cy="764.61" r="3.5" class="o"/>
<circle cx="622.27" cy="774.19" r="3.5" class="o"/>
<circle cx="565.28" cy="806.02" r="3.5" class="o"/>
<circle cx="633.01" cy="775.57" r="3.5" class="o"/>
<circle cx="654.59" cy="756.01" r="3.5" class="o"/>
<circle cx="575.19" cy="801.47" r="3.5" class="o"/>
<circle cx="667.12" cy="751.41" r="3.5" class="o"/>
<circle cx="658.01" cy="754.19" r="3.5" class="o"/>
<circle cx="594.01" cy="790.96" r="3.5" class="o"/>
<circle cx="589.3" cy="789.91" r="3.5" class="o"/>
<circle cx="594.01" cy="790.71" r="3.5" class="o"/>
<circle cx="704.67" cy="731.55" r="3.5" class="o"/>
<circle cx="631.86" cy="779.11" r="3.5" class="o"/>
<circle cx="660.29" cy="752.21" r="3.5" class="o"/>
<circle cx="595.07" cy="786.5" r="3.5" class="o"/>
<circle cx="595.7" cy="788.49" r="3.5" class="o"/>
<circle cx="565.04" cy="808.34" r="3.5" class="o"/>
<circle cx="626.88" cy="772.57" r="3.5" class="o"/>
<circle cx="672.34" cy="742.14" r="3.5" class="o"/>
<circle cx="719.84" cy="713.06" r="3.5" class="o"/>
<circle cx="592.89" cy="791.46" r="3.5" class="o"/>
<circle cx="663.25" cy="747.33" r="3.5" class="o"/>
<circle cx="642.62" cy="761.43" r="3.5" class="o"/>
<circle cx="573.36" cy="804.47" r="3.5" class="o"/>
<circle cx="596.91" cy="790.52" r="3.5" class="o"/>
<circle cx="592.74" cy="790.54" r="3.5" class="o"/>
<circle cx="649.47" cy="766.1" r="3.5" class="o"/>
<circle cx="637.1" cy="769.98" r="3.5" class="o"/>
<circle cx="589.93" cy="791.95" r="3.5" class="o"/>
<circle cx="615.01" cy="779.18" r="3.5" class="o"/>
<circle cx="592.34" cy="786.89" r="3.5" class="o"/>
<circle cx="571.02" cy="806.33" r="3.5" class="o"/>
<circle cx="585.59" cy="791.99" r="3.5" class="o"/>
<circle cx="629.3" cy="775.22" r="3.5" class="o"/>
<circle cx="594.36" cy="784.91" r="3.5" class="o"/>
<circle cx="570.72" cy="801.3" r="3.5" class="o"/>
<circle cx="609.59" cy="782.81" r="3.5" class="o"/>
<circle cx="627.73" cy="777.3" r="3.5" class="o"/>
<circle cx="568.97" cy="807.52" r="3.5" class="o"/>
<circle cx="640.9" cy="763.02" r="3.5" class="o"/>
<circle cx="579.56" cy="799.21" r="3.5" class="o"/>
<circle cx="574.02" cy="805.65" r="3.5" class="o"/>
<circle cx="568.99" cy="804.36" r="3.5" class="o"/>
<circle cx="599.02" cy="782.77" r="3.5" class="o"/>
<circle cx="637.62" cy="766.81" r="3.5" class="o"/>
<circle cx="712.61" cy="733.36" r="3.5" class="o"/>
<circle cx="596.41" cy="785.89" r="3.5" class="o"/>
<circle cx="577.39" cy="802.37" r="3.5" class="o"/>
<circle cx="621.83" cy="770.81" r="3.5" class="o"/>
<circle cx="627.08" cy="778.06" r="3.5" class="o"/>
<circle cx="653.07" cy="757.54" r="3.5" class="o"/>
<circle cx="666.56" cy="758.26" r="3.5" class="o"/>
<circle cx="606.38" cy="784" r="3.5" class="o"/>
<circle cx="667.2" cy="753.05" r="3.5" class="o"/>
<circle cx="621.31" cy="778.98" r="3.5" class="o"/>
<circle cx="586.21" cy="795.84" r="3.5" class="o"/>
<circle cx="638.38" cy="765" r="3.5" class="o"/>
<circle cx="678.2" cy="735.5" r="3.5" class="o"/>
<circle cx="625.94" cy="774.67" r="3.5" class="o"/>
<circle cx="611.09" cy="780.9" r="3.5" class="o"/>
<circle cx="589.95" cy="786.36" r="3.5" class="o"/>
<circle cx="565.56" cy="806.45" r="3.5" class="o"/>
<circle cx="578.06" cy="799.55" r="3.5" class="o"/>
<circle cx="572.76" cy="800.62" r="3.5" class="o"/>
<circle cx="699.65" cy="726.11" r="3.5" class="o"/>
<circle cx="568.07" cy="808.64" r="3.5" class="o"/>
<circle cx="602.17" cy="791.45" r="3.5" class="o"/>
<circle cx="672.18" cy="740.15" r="3.5" class="o"/>
<circle cx="592.41" cy="790.71" r="3.5" class="o"/>
<circle cx="576.6" cy="799.9" r="3.5" class="o"/>
<circle cx="564.17" cy="808.62" r="3.5" class="o"/>
<circle cx="611.97" cy="782.6" r="3.5" class="o"/>
<circle cx="715.49" cy="718.98" r="3.5" class="o"/>
<circle cx="639.49" cy="775.03" r="3.5" class="o"/>
<circle cx="596.48" cy="788.61" r="3.5" class="o"/>
<circle cx="568.53" cy="805.93" r="3.5" class="o"/>
<circle cx="568.87" cy="803.12" r="3.5" class="o"/>
<circle cx="594.39" cy="792.68" r="3.5" class="o"/>
<circle cx="634.48" cy="774.42" r="3.5" class="o"/>
<circle cx="616.91" cy="785.15" r="3.5" class="o"/>
<circle cx="604.03" cy="782.63" r="3.5" class="o"/>
<circle cx="579.74" cy="796.93" r="3.5" class="o"/>
<circle cx="617.34" cy="775.55" r="3.5" class="o"/>
<circle cx="618.45" cy="779.04" r="3.5" class="o"/>
<circle cx="637.7" cy="766.62" r="3.5" class="o"/>
<circle cx="584.66" cy="798.04" r="3.5" class="o"/>
<circle cx="597.52" cy="792.16" r="3.5" class="o"/>
<circle cx="634.34" cy="772.41" r="3.5" class="o"/>
<circle cx="650.41" cy="759.48" r="3.5" class="o"/>
<circle cx="578.64" cy="801.41" r="3.5" class="o"/>
<circle cx="646.87" cy="763.73" r="3.5" class="o"/>
<circle cx="581.1" cy="795.02" r="3.5" class="o"/>
<circle cx="648.71" cy="758.32" r="3.5" class="o"/>
<circle cx="629.17" cy="767.45" r="3.5" class="o"/>
<circle cx="593.64" cy="792.49" r="3.5" class="o"/>
<circle cx="595.44" cy="790.08" r="3.5" class="o"/>
<circle cx="676.71" cy="754.34" r="3.5" class="o"/>
<circle cx="620.08" cy="780.85" r="3.5" class="o"/>
<circle cx="628.13" cy="767.37" r="3.5" class="o"/>
<circle cx="676.91" cy="748.88" r="3.5" class="o"/>
<circle cx="659.89" cy="747.42" r="3.5" class="o"/>
<circle cx="578.48" cy="801.19" r="3.5" class="o"/>
<circle cx="583.21" cy="797.31" r="3.5" class="o"/>
<circle cx="660.53" cy="757.25" r="3.5" class="o"/>
<circle cx="584.05" cy="791.74" r="3.5" class="o"/>
<circle cx="611.19" cy="782.32" r="3.5" class="o"/>
<circle cx="564.18" cy="806.57" r="3.5" class="o"/>
<circle cx="596.99" cy="783.13" r="3.5" class="o"/>
<circle cx="564.21" cy="809" r="3.5" class="o"/>
<circle cx="590.34" cy="793.27" r="3.5" class="o"/>
<circle cx="636.78" cy="776.41" r="3.5" class="o"/>
<circle cx="686.45" cy="749.34" r="3.5" class="o"/>
<circle cx="586.08" cy="794.46" r="3.5" class="o"/>
<circle cx="588.8" cy="791.63" r="3.5" class="o"/>
<circle cx="594.13" cy="788.29" r="3.5" class="o"/>
<circle cx="623.98" cy="770.5" r="3.5" class="o"/>
<circle cx="621.7" cy="777.38" r="3.5" class="o"/>
<circle cx="712.11" cy="722.99" r="3.5" class="o"/>
<circle cx="708.18" cy="730.76" r="3.5" class="o"/>
<circle cx="714.37" cy="721.75" r="3.5" class="o"/>
<circle cx="650.92" cy="760.73" r="3.5" class="o"/>
<circle cx="646.4" cy="761.71" r="3.5" class="o"/>
<circle cx="630.71" cy="768.84" r="3.5" class="o"/>
<circle cx="674.65" cy="748.04" r="3.5" class="o"/>
<circle cx="665.82" cy="746.74" r="3.5" class="o"/>
<circle cx="629.81" cy="768.33" r="3.5" class="o"/>
<circle cx="584.57" cy="798.56" r="3.5" class="o"/>
<circle cx="572.4" cy="803.92" r="3.5" class="o"/>
<circle cx="595.48" cy="790.04" r="3.5" class="o"/>
<circle cx="583.62" cy="795.03" r="3.5" class="o"/>
<circle cx="614.29" cy="784.54" r="3.5" class="o"/>
<circle cx="587.82" cy="794.08" r="3.5" class="o"/>
<circle cx="616.26" cy="770.63" r="3.5" class="o"/>
<circle cx="567.27" cy="808.61" r="3.5" class="o"/>
<circle cx="584.23" cy="798.08" r="3.5" class="o"/>
<circle cx="564.76" cy="805.33" r="3.5" class="o"/>
<circle cx="618.67" cy="775.6" r="3.5" class="o"/>
<circle cx="711.27" cy="736.24" r="3.5" class="o"/>
<circle cx="570.54" cy="804.53" r="3.5" class="o"/>
<circle cx="582.86" cy="795.14" r="3.5" class="o"/>
<circle cx="718.17" cy="719.17" r="3.5" class="o"/>
<circle cx="596.74" cy="788.56" r="3.5" class="o"/>
<circle cx="637.5" cy="766.7" r="3.5" class="o"/>
<circle cx="596.97" cy="785.28" r="3.5" class="o"/>
<circle cx="572.44" cy="805.56" r="3.5" class="o"/>
<circle cx="714.66" cy="709.91" r="3.5" class="o"/>
<circle cx="638.91" cy="765.5" r="3.5" class="o"/>
<circle cx="706.9" cy="718.23" r="3.5" class="o"/>
<circle cx="574.79" cy="802.47" r="3.5" class="o"/>
<circle cx="599.39" cy="785.51" r="3.5" class="o"/>
<circle cx="588.38" cy="791.58" r="3.5" class="o"/>
<circle cx="684.83" cy="742.02" r="3.5" class="o"/>
<circle cx="579.05" cy="797.3" r="3.5" class="o"/>
<circle cx="663.09" cy="746.11" r="3.5" class="o"/>
<circle cx="621.63" cy="771.4" r="3.5" class="o"/>
<circle cx="659.47" cy="749.49" r="3.5" class="o"/>
<circle cx="598.77" cy="787.64" r="3.5" class="o"/>
<circle cx="580.56" cy="800.19" r="3.5" class="o"/>
<circle cx="597.41" cy="780.96" r="3.5" class="o"/>
<circle cx="601.45" cy="785.75" r="3.5" class="o"/>
<circle cx="576.19" cy="795.04" r="3.5" class="o"/>
<circle cx="678.88" cy="739.39" r="3.5" class="o"/>
<circle cx="646.9" cy="763.89" r="3.5" class="o"/>
<circle cx="568.44" cy="803.1" r="3.5" class="o"/>
<circle cx="600.23" cy="786.01" r="3.5" class="o"/>
<circle cx="597.92" cy="786.24" r="3.5" class="o"/>
<circle cx="642.21" cy="757.02" r="3.5" class="o"/>
<circle cx="604.49" cy="785.48" r="3.5" class="o"/>
<circle cx="660.9" cy="751.22" r="3.5" class="o"/>
<circle cx="626.15" cy="769.77" r="3.5" class="o"/>
<circle cx="674.52" cy="742.1" r="3.5" class="o"/>
<circle cx="633.42" cy="765.65" r="3.5" class="o"/>
<circle cx="569.25" cy="806.61" r="3.5" class="o"/>
<circle cx="581.56" cy="798.52" r="3.5" class="o"/>
<circle cx="588.29" cy="791.38" r="3.5" class="o"/>
<circle cx="588.17" cy="797.19" r="3.5" class="o"/>
<circle cx="593.76" cy="786.21" r="3.5" class="o"/>
<circle cx="616.9" cy="773.18" r="3.5" class="o"/>
<circle cx="569.9" cy="804.11" r="3.5" class="o"/>
<circle cx="634.15" cy="765.63" r="3.5" class="o"/>
<circle cx="584.31" cy="798.03" r="3.5" class="o"/>
<circle cx="637.68" cy="771.6" r="3.5" class="o"/>
<circle cx="580.65" cy="799.64" r="3.5" class="o"/>
<circle cx="577.62" cy="798.74" r="3.5" class="o"/>
<circle cx="639.82" cy="765.42" r="3.5" class="o"/>
<circle cx="678.05" cy="742.96" r="3.5" class="o"/>
<circle cx="610.38" cy="782.31" r="3.5" class="o"/>
<circle cx="575.18" cy="806.28" r="3.5" class="o"/>
<circle cx="676.85" cy="743.45" r="3.5" class="o"/>
<circle cx="637.57" cy="770.68" r="3.5" class="o"/>
<circle cx="608.87" cy="778.92" r="3.5" class="o"/>
<circle cx="592.25" cy="787.27" r="3.5" class="o"/>
<circle cx="678.02" cy="737.82" r="3.5" class="o"/>
<circle cx="634.36" cy="777.44" r="3.5" class="o"/>
<circle cx="582.33" cy="793.78" r="3.5" class="o"/>
<circle cx="581.58" cy="801.59" r="3.5" class="o"/>
<circle cx="574.15" cy="802.39" r="3.5" class="o"/>
<circle cx="637.49" cy="765.18" r="3.5" class="o"/>
<circle cx="598.42" cy="786.15" r="3.5" class="o"/>
<circle cx="605.19" cy="781.58" r="3.5" class="o"/>
<circle cx="662.2" cy="754.36" r="3.5" class="o"/>
<circle cx="654.99" cy="755.72" r="3.5" class="o"/>
<circle cx="571.97" cy="803.76" r="3.5" class="o"/>
<circle cx="583.84" cy="793.48" r="3.5" class="o"/>
<circle cx="644.24" cy="766.83" r="3.5" class="o"/>
<circle cx="688.45" cy="742.29" r="3.5" class="o"/>
<circle cx="653.98" cy="754.23" r="3.5" class="o"/>
<circle cx="637.98" cy="761.07" r="3.5" class="o"/>
<circle cx="575.24" cy="803.31" r="3.5" class="o"/>
<circle cx="632.35" cy="770.72" r="3.5" class="o"/>
<circle cx="669.45" cy="744.97" r="3.5" class="o"/>
<circle cx="680.32" cy="752.93" r="3.5" class="o"/>
<circle cx="615.32" cy="783.09" r="3.5" class="o"/>
<circle cx="674.92" cy="752.81" r="3.5" class="o"/>
<circle cx="626.21" cy="770.81" r="3.5" class="o"/>
<circle cx="574.72" cy="800.89" r="3.5" class="o"/>
<circle cx="612.72" cy="782.14" r="3.5" class="o"/>
<circle cx="754.2" cy="682.7" r="3.5" class="o"/>
<circle cx="766" cy="693" r="3.5" class="o"/>
<circle cx="742.2" cy="693.8" r="3.5" class="o"/>
<circle cx="727.1" cy="700.2" r="3.5" class="o"/>
<circle cx="732.2" cy="699.1" r="3.5" class="o"/>
<circle cx="747.1" cy="703.8" r="3.5" class="o"/>
<circle cx="755.6" cy="703" r="3.5" class="o"/>
<circle cx="761.4" cy="706.8" r="3.5" class="o"/>
<circle cx="749.1" cy="711.7" r="3.5" class="o"/>
<circle cx="738.4" cy="715" r="3.5" class="o"/>
<circle cx="759.9" cy="714.8" r="3.5" class="o"/>
<circle cx="707.6" cy="706.8" r="3.5" class="o"/>
<circle cx="716.8" cy="707.6" r="3.5" class="o"/>
<circle cx="699.9" cy="712.2" r="3.5" class="o"/>
<circle cx="713.8" cy="719.9" r="3.5" class="o"/>
<circle cx="701.5" cy="734.5" r="3.5" class="o"/>
<circle cx="703" cy="738.3" r="3.5" class="o"/>
<circle cx="701.5" cy="746" r="3.5" class="o"/>
<circle cx="683.8" cy="749.9" r="3.5" class="o"/>
<circle cx="676.9" cy="747.6" r="3.5" class="o"/>
<circle cx="689.2" cy="724.5" r="3.5" class="o"/>
<circle cx="683" cy="727.6" r="3.5" class="o"/>
<circle cx="820.9" cy="632.4" r="3.5" class="o"/>
<circle cx="775.7" cy="653.5" r="3.5" class="o"/>
<circle cx="789.1" cy="658.7" r="3.5" class="o"/>
<circle cx="770.7" cy="662.3" r="3.5" class="o"/>
<circle cx="772.4" cy="662.6" r="3.5" class="o"/>
<circle cx="779.5" cy="665" r="3.5" class="o"/>
<circle cx="791" cy="672.4" r="3.5" class="o"/>
<circle cx="754.3" cy="682.5" r="3.5" class="o"/>
<circle cx="741.6" cy="693.3" r="3.5" class="o"/>
<circle cx="867.6" cy="607.4" r="3.5" class="o"/>
<circle cx="776" cy="654.1" r="3.5" class="o"/>
<circle cx="777.5" cy="664.6" r="3.5" class="o"/>
<polyline points="546.6,822.29 581,800.54 610,780.7 640,760.63 660,748.38 690,730.21 720,711.63 770,680.11 820,648.89 872.3,616.32" fill="none" stroke="#EE0000" stroke-width="4.3" stroke-linejoin="round"/>
<line x1="546.6" y1="821.29" x2="872.3" y2="615.32" stroke="#000" stroke-width="1.6" stroke-dasharray="6 4" opacity="0.7"/>
<line x1="546.6" y1="822.25" x2="872.3" y2="574.09" stroke="#0000E6" stroke-width="4.2"/>
</g>
<rect x="551.5" y="543.5" width="316" height="276" fill="none" stroke="#000" stroke-width="1.1"/>
<line x1="541.2" y1="809.5" x2="551.5" y2="809.5" stroke="#000" stroke-width="1.1"/>
<text x="535.4" y="815.5" font-size="16" text-anchor="end" textLength="8.55" lengthAdjust="spacingAndGlyphs">0</text>
<line x1="541.2" y1="756.5" x2="551.5" y2="756.5" stroke="#000" stroke-width="1.1"/>
<text x="535.4" y="762.5" font-size="16" text-anchor="end" textLength="34.2" lengthAdjust="spacingAndGlyphs">1000</text>
<line x1="541.2" y1="704.5" x2="551.5" y2="704.5" stroke="#000" stroke-width="1.1"/>
<text x="535.4" y="710.5" font-size="16" text-anchor="end" textLength="34.2" lengthAdjust="spacingAndGlyphs">2000</text>
<line x1="541.2" y1="651.5" x2="551.5" y2="651.5" stroke="#000" stroke-width="1.1"/>
<text x="535.4" y="657.5" font-size="16" text-anchor="end" textLength="34.2" lengthAdjust="spacingAndGlyphs">3000</text>
<line x1="541.2" y1="598.5" x2="551.5" y2="598.5" stroke="#000" stroke-width="1.1"/>
<text x="535.4" y="604.5" font-size="16" text-anchor="end" textLength="34.2" lengthAdjust="spacingAndGlyphs">4000</text>
<line x1="563.5" y1="819.5" x2="563.5" y2="829.7" stroke="#000" stroke-width="1.1"/>
<text x="563" y="839.8" font-size="16.8" text-anchor="end" transform="rotate(-45 563 833.8)">0</text>
<line x1="632.5" y1="819.5" x2="632.5" y2="829.7" stroke="#000" stroke-width="1.1"/>
<text x="632.1" y="839.8" font-size="16.8" text-anchor="end" transform="rotate(-45 632.1 833.8)">1000</text>
<line x1="701.5" y1="819.5" x2="701.5" y2="829.7" stroke="#000" stroke-width="1.1"/>
<text x="701.2" y="839.8" font-size="16.8" text-anchor="end" transform="rotate(-45 701.2 833.8)">2000</text>
<line x1="770.5" y1="819.5" x2="770.5" y2="829.7" stroke="#000" stroke-width="1.1"/>
<text x="770.3" y="839.8" font-size="16.8" text-anchor="end" transform="rotate(-45 770.3 833.8)">3000</text>
<line x1="840.5" y1="819.5" x2="840.5" y2="829.7" stroke="#000" stroke-width="1.1"/>
<text x="839.4" y="839.8" font-size="16.8" text-anchor="end" transform="rotate(-45 839.4 833.8)">4000</text>
<text x="0" y="0" font-size="16" text-anchor="middle" textLength="178.8" lengthAdjust="spacingAndGlyphs" transform="translate(488.1 681.7) rotate(-90)">Surface scripts Fiji (cm²)</text>
<text x="709.2" y="894.7" font-size="16" text-anchor="middle" textLength="182.5" lengthAdjust="spacingAndGlyphs">Surface planimètre (cm²)</text>
<text y="579.9" font-size="16.6"><tspan x="664.8">R</tspan><tspan x="676.8" y="577.1">²</tspan><tspan x="686.2" y="579.9">=</tspan><tspan x="705.6">0.98</tspan></text>
<text y="604.1" font-size="16.6"><tspan x="642.2" font-style="italic">y</tspan><tspan x="654.2">=</tspan><tspan x="667.6">-6.53</tspan><tspan x="707.2">+</tspan><tspan x="720.2">0.83</tspan><tspan x="751.6" font-style="italic">x</tspan></text>
</svg>
</body></html>
